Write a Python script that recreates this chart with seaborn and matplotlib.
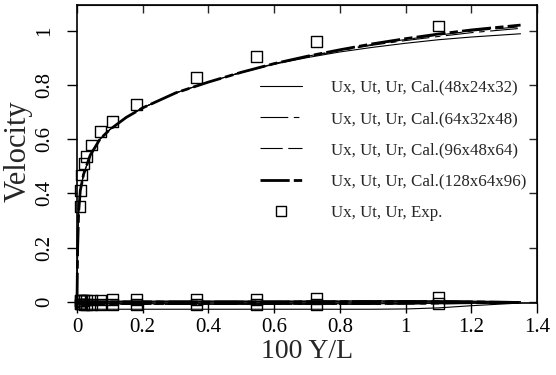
import matplotlib
matplotlib.use("Agg")
import matplotlib.pyplot as plt
import seaborn as sns
from matplotlib.lines import Line2D

# Wall distance (100 Y/L) of the computed profiles
y_cal = [0.0, 0.002, 0.005, 0.01, 0.02, 0.04, 0.07, 0.1, 0.15, 0.2, 0.3,
         0.4, 0.5, 0.6, 0.7, 0.8, 0.9, 1.0, 1.1, 1.2, 1.35]

# Axial velocity Ux for the four grids
ux_48 = [0.0, 0.20, 0.33, 0.41, 0.47, 0.54, 0.60, 0.635, 0.68, 0.715, 0.77,
         0.81, 0.845, 0.876, 0.90, 0.921, 0.938, 0.953, 0.966, 0.976, 0.988]
ux_64 = [0.0, 0.20, 0.33, 0.41, 0.47, 0.54, 0.60, 0.635, 0.68, 0.715, 0.77,
         0.81, 0.846, 0.877, 0.903, 0.926, 0.946, 0.963, 0.978, 0.992, 1.008]
ux_96 = [0.0, 0.20, 0.33, 0.41, 0.47, 0.54, 0.60, 0.635, 0.68, 0.715, 0.77,
         0.81, 0.846, 0.878, 0.905, 0.928, 0.949, 0.967, 0.983, 0.998, 1.014]
ux_128 = [0.0, 0.20, 0.33, 0.41, 0.47, 0.54, 0.60, 0.635, 0.68, 0.715, 0.77,
          0.81, 0.846, 0.878, 0.905, 0.929, 0.951, 0.970, 0.987, 1.002, 1.020]

# Tangential velocity Ut for the four grids
ut_48 = [0.0, 0.002, 0.003, 0.003, 0.003, 0.003, 0.003, 0.003, 0.003, 0.003, 0.003,
         0.003, 0.003, 0.003, 0.003, 0.003, 0.004, 0.004, 0.004, 0.003, 0.001]
ut_64 = [0.0, 0.001, 0.002, 0.002, 0.002, 0.002, 0.002, 0.002, 0.002, 0.002, 0.002,
         0.002, 0.002, 0.002, 0.002, 0.003, 0.003, 0.003, 0.003, 0.002, 0.0]
ut_96 = [0.0, 0.001, 0.001, 0.001, 0.001, 0.001, 0.001, 0.001, 0.001, 0.001, 0.001,
         0.001, 0.001, 0.001, 0.002, 0.002, 0.002, 0.002, 0.002, 0.001, -0.001]
ut_128 = [0.0, 0.0, 0.0, 0.0, 0.0, 0.0, 0.0, 0.0, 0.0, 0.0, 0.0,
          0.0, 0.0, 0.0, 0.001, 0.001, 0.001, 0.001, 0.001, 0.0, -0.002]

# Radial velocity Ur for the four grids
ur_48 = [0.0, -0.015, -0.022, -0.026, -0.027, -0.027, -0.027, -0.027, -0.027, -0.027, -0.027,
         -0.027, -0.027, -0.027, -0.027, -0.027, -0.027, -0.026, -0.022, -0.014, -0.004]
ur_64 = [0.0, -0.005, -0.008, -0.009, -0.009, -0.009, -0.009, -0.009, -0.009, -0.009, -0.009,
         -0.009, -0.009, -0.009, -0.009, -0.009, -0.009, -0.008, -0.007, -0.005, -0.002]
ur_96 = [0.0, -0.004, -0.006, -0.007, -0.007, -0.007, -0.007, -0.007, -0.007, -0.007, -0.007,
         -0.007, -0.007, -0.007, -0.007, -0.007, -0.007, -0.006, -0.005, -0.004, -0.002]
ur_128 = [0.0, -0.003, -0.005, -0.006, -0.006, -0.006, -0.006, -0.006, -0.006, -0.006, -0.006,
          -0.006, -0.006, -0.006, -0.006, -0.006, -0.006, -0.005, -0.004, -0.003, -0.002]

# Measurements
y_exp = [0.009, 0.011, 0.014, 0.021, 0.029, 0.045, 0.072, 0.108, 0.182,
         0.364, 0.547, 0.729, 1.10]
ux_exp = [0.351, 0.41, 0.468, 0.51, 0.535, 0.578, 0.627, 0.664, 0.726,
          0.828, 0.904, 0.959, 1.017]
ut_exp = [0.005, 0.005, 0.006, 0.006, 0.007, 0.007, 0.007, 0.008, 0.008,
          0.009, 0.010, 0.012, 0.018]
ur_exp = [-0.008, -0.008, -0.008, -0.009, -0.009, -0.009, -0.010, -0.010, -0.010,
          -0.010, -0.010, -0.010, -0.007]

labels = ["Ux, Ut, Ur, Cal.(48x24x32)", "Ux, Ut, Ur, Cal.(64x32x48)",
          "Ux, Ut, Ur, Cal.(96x48x64)", "Ux, Ut, Ur, Cal.(128x64x96)",
          "Ux, Ut, Ur, Exp."]
x_ticks = [0, 0.2, 0.4, 0.6, 0.8, 1.0, 1.2, 1.4]
x_ticklabels = ["0", "0.2", "0.4", "0.6", "0.8", "1", "1.2", "1.4"]
y_ticks = [0, 0.2, 0.4, 0.6, 0.8, 1.0]
y_ticklabels = ["0", "0.2", "0.4", "0.6", "0.8", "1"]

sns.set_style("ticks")
plt.rcParams["font.family"] = ["Liberation Serif", "DejaVu Serif"]
plt.rcParams["lines.scale_dashes"] = False

fig = plt.figure(figsize=(5.56, 3.75), dpi=100)
ax = fig.add_axes([77 / 556, 1 - 303 / 375, 460 / 556, 298 / 375])

styles = [
    dict(lw=0.8, ls="-"),
    dict(lw=0.8, ls=(0, (20, 4, 4, 4))),
    dict(lw=0.8, ls=(0, (16, 4))),
    dict(lw=2.0, ls=(0, (21, 3, 6, 3))),
]
series = [(ux_48, ut_48, ur_48), (ux_64, ut_64, ur_64),
          (ux_96, ut_96, ur_96), (ux_128, ut_128, ur_128)]

for st, comps in zip(styles, series):
    for comp in comps:
        sns.lineplot(x=y_cal, y=comp, ax=ax, color="black", linewidth=st["lw"],
                     linestyle=st["ls"], sort=False, estimator=None,
                     clip_on=False, legend=False)

for comp in (ux_exp, ut_exp, ur_exp):
    sns.scatterplot(x=y_exp, y=comp, ax=ax, marker="s", s=60,
                    facecolor="none", edgecolor="black", linewidth=1.0,
                    clip_on=False, legend=False, zorder=3)

ax.set_xlim(0, 1.4)
ax.set_ylim(-0.004, 1.094)
ax.set_xticks(x_ticks, x_ticklabels)
ax.set_yticks(y_ticks, y_ticklabels)
ax.tick_params(axis="both", direction="out", length=7.5, width=1.0,
               labelsize=15, colors="black")
ax.tick_params(axis="x", pad=3)
ax.tick_params(axis="y", pad=9)
for lab in ax.get_yticklabels():
    lab.set_rotation(90)
    lab.set_va("center")
for sp in ax.spines.values():
    sp.set_linewidth(1.2)
    sp.set_color("black")

# inward ticks on the top and right edges
top = ax.secondary_xaxis("top")
top.set_xticks(x_ticks)
top.tick_params(direction="in", length=6, width=1.0, labeltop=False)
right = ax.secondary_yaxis("right")
right.set_yticks(y_ticks)
right.tick_params(direction="in", length=6, width=1.0, labelright=False)

ax.set_xlabel("100 Y/L", fontsize=20)
ax.set_ylabel("Velocity", fontsize=22)
ax.xaxis.set_label_coords(0.5, -0.122)
ax.yaxis.set_label_coords(-0.097, 0.51)

handles = [Line2D([], [], color="black", lw=st["lw"], ls=st["ls"]) for st in styles]
handles.append(Line2D([], [], color="black", ls="none", marker="s", ms=7,
                      mfc="none", mew=1.0))
ax.legend(handles, labels, loc="upper left", bbox_to_anchor=(0.383, 0.772),
          frameon=False, fontsize=12.2, handlelength=2.5, labelspacing=0.9,
          handletextpad=1.7, borderaxespad=0)

fig.savefig("out.png", dpi=100)
